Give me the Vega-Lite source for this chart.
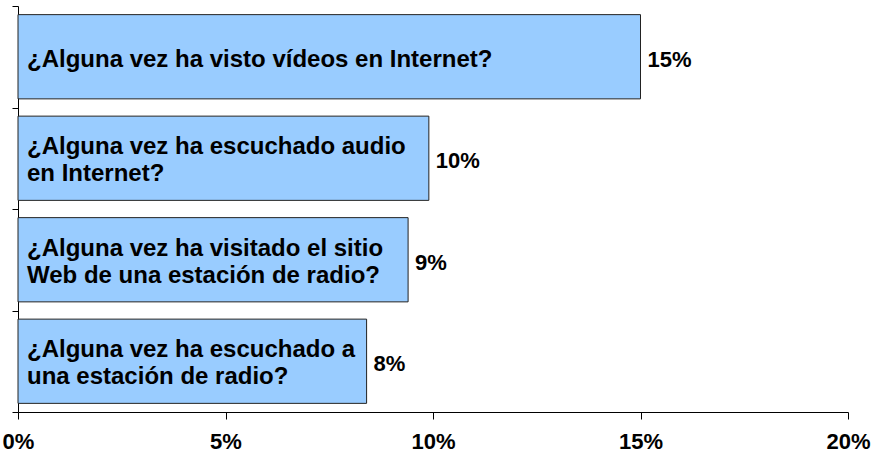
{
  "$schema": "https://vega.github.io/schema/vega-lite/v6.json",
  "width": 830,
  "height": 406,
  "padding": {"left": 18, "top": 6, "right": 26, "bottom": 46},
  "autosize": {"type": "none"},
  "background": "white",
  "config": {
    "view": {"stroke": null},
    "font": "Liberation Sans"
  },
  "data": {
    "values": [
      {"q": "¿Alguna vez ha visto vídeos en Internet?", "v": 15.0, "lbl": "15%", "o": 1},
      {"q": "¿Alguna vez ha escuchado audio\nen Internet?", "v": 9.9, "lbl": "10%", "o": 2},
      {"q": "¿Alguna vez ha visitado el sitio\nWeb de una estación de radio?", "v": 9.4, "lbl": "9%", "o": 3},
      {"q": "¿Alguna vez ha escuchado a\nuna estación de radio?", "v": 8.4, "lbl": "8%", "o": 4}
    ]
  },
  "encoding": {
    "y": {
      "field": "o",
      "type": "ordinal",
      "scale": {"paddingInner": 0, "paddingOuter": 0},
      "axis": {
        "title": null,
        "labels": false,
        "tickBand": "extent",
        "tickSize": 6,
        "tickColor": "#000",
        "domainColor": "#000",
        "domainWidth": 1,
        "tickWidth": 1
      }
    }
  },
  "layer": [
    {
      "mark": {"type": "bar", "height": {"band": 0.83}, "fill": "#99CCFF", "stroke": "#222", "strokeWidth": 1},
      "encoding": {
        "x": {
          "field": "v",
          "type": "quantitative",
          "scale": {"domain": [0, 20], "nice": false},
          "axis": {
            "title": null,
            "values": [0, 5, 10, 15, 20],
            "labelExpr": "datum.value + '%'",
            "grid": false,
            "tickSize": 7,
            "tickColor": "#000",
            "domainColor": "#000",
            "labelFontSize": 22,
            "labelFontWeight": "bold",
            "labelColor": "#000",
            "labelPadding": 12,
            "labelFlush": false,
            "labelOverlap": false
          }
        }
      }
    },
    {
      "transform": [{"filter": "indexof(datum.q, '\\n') < 0"}],
      "mark": {"type": "text", "align": "left", "baseline": "middle", "dx": 9, "dy": 3, "fontSize": 24, "fontWeight": "bold", "lineHeight": 27, "lineBreak": "\n", "color": "#000"},
      "encoding": {
        "x": {"datum": 0, "type": "quantitative"},
        "text": {"field": "q"}
      }
    },
    {
      "transform": [{"filter": "indexof(datum.q, '\\n') >= 0"}],
      "mark": {"type": "text", "align": "left", "baseline": "middle", "dx": 9, "dy": -11, "fontSize": 24, "fontWeight": "bold", "lineHeight": 27, "lineBreak": "\n", "color": "#000"},
      "encoding": {
        "x": {"datum": 0, "type": "quantitative"},
        "text": {"field": "q"}
      }
    },
    {
      "mark": {"type": "text", "align": "left", "baseline": "middle", "dx": 7, "dy": 3, "fontSize": 22, "fontWeight": "bold", "color": "#000"},
      "encoding": {
        "x": {"field": "v", "type": "quantitative"},
        "text": {"field": "lbl"}
      }
    }
  ]
}
